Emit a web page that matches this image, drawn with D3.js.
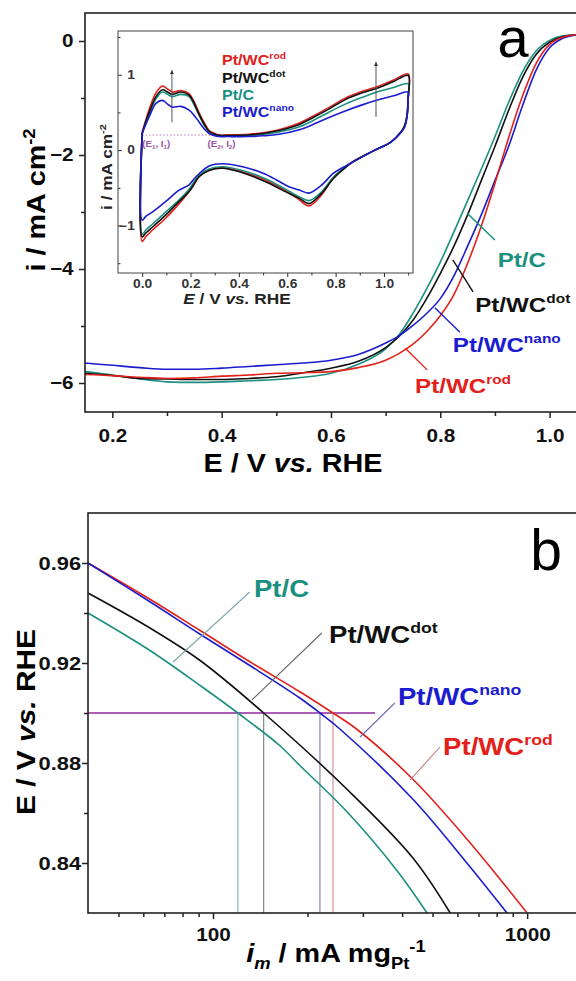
<!DOCTYPE html>
<html><head><meta charset="utf-8">
<script src="https://cdn.jsdelivr.net/npm/d3@7"></script>
<style>body{margin:0;background:#fff}svg{display:block}</style>
</head><body>
<svg id="c" width="576" height="981"></svg>
<script>
// ---------------- DATA ----------------
// Panel a: LSV (ORR polarisation curves)
const lsvE    = [0.15,0.2,0.25,0.3,0.35,0.4,0.45,0.5,0.55,0.6,0.65,0.7,0.725,0.75,0.775,0.8,0.825,0.85,0.875,0.9,0.925,0.95,0.975,1.0,1.025,1.05];
const lsvRod  = [-5.85,-5.87,-5.90,-5.92,-5.91,-5.88,-5.86,-5.83,-5.82,-5.80,-5.73,-5.60,-5.48,-5.32,-5.10,-4.82,-4.45,-3.90,-3.25,-2.50,-1.70,-0.98,-0.40,-0.06,0.07,0.11];
const lsvNano = [-5.65,-5.69,-5.73,-5.76,-5.76,-5.74,-5.71,-5.68,-5.65,-5.60,-5.50,-5.30,-5.17,-4.99,-4.78,-4.52,-4.12,-3.60,-3.05,-2.45,-1.85,-1.15,-0.52,-0.12,0.05,0.11];
const lsvDot  = [-5.83,-5.87,-5.92,-5.93,-5.94,-5.94,-5.92,-5.89,-5.82,-5.74,-5.62,-5.38,-5.18,-4.90,-4.52,-4.08,-3.60,-3.05,-2.45,-1.85,-1.22,-0.65,-0.24,-0.02,0.08,0.11];
const lsvPtC  = [-5.80,-5.86,-5.93,-5.98,-5.99,-5.98,-5.96,-5.94,-5.90,-5.83,-5.67,-5.40,-5.15,-4.78,-4.35,-3.88,-3.35,-2.80,-2.25,-1.68,-1.08,-0.55,-0.18,0.01,0.09,0.11];

// Inset: cyclic voltammograms, anodic (upper) and cathodic (lower) branches
const cvUpE    = [0,0.015,0.03,0.057,0.084,0.105,0.125,0.16,0.194,0.215,0.236,0.257,0.277,0.3,0.318,0.35,0.44,0.5,0.566,0.65,0.70,0.77,0.84,0.91,0.98,1.04,1.1];
const cvUpRod  = [0.24,0.40,0.55,0.76,0.85,0.81,0.77,0.79,0.75,0.64,0.49,0.36,0.26,0.22,0.20,0.20,0.21,0.23,0.27,0.36,0.44,0.56,0.69,0.78,0.85,0.93,1.01];
const cvUpDot  = [0.22,0.38,0.51,0.71,0.80,0.77,0.74,0.77,0.73,0.62,0.47,0.34,0.25,0.21,0.195,0.195,0.20,0.22,0.26,0.34,0.42,0.54,0.67,0.76,0.83,0.91,0.99];
const cvUpPtC  = [0.22,0.37,0.49,0.68,0.77,0.74,0.71,0.74,0.71,0.60,0.46,0.33,0.24,0.20,0.19,0.19,0.195,0.21,0.24,0.31,0.38,0.50,0.61,0.70,0.78,0.83,0.88];
const cvUpNano = [0.22,0.34,0.45,0.62,0.66,0.61,0.57,0.58,0.53,0.46,0.37,0.28,0.22,0.19,0.18,0.18,0.18,0.19,0.21,0.27,0.33,0.43,0.52,0.60,0.67,0.72,0.77];
const cvDnE    = [1.1,1.095,1.085,1.07,1.03,0.95,0.87,0.83,0.79,0.74,0.69,0.65,0.61,0.51,0.415,0.332,0.277,0.236,0.215,0.194,0.153,0.098,0.043,0.015,0];
const cvDnRod  = [0.70,0.45,0.32,0.24,0.11,-0.02,-0.155,-0.25,-0.37,-0.60,-0.74,-0.66,-0.57,-0.40,-0.29,-0.235,-0.265,-0.35,-0.45,-0.55,-0.71,-0.90,-1.06,-1.15,-1.21];
const cvDnDot  = [0.70,0.45,0.32,0.24,0.11,-0.02,-0.16,-0.26,-0.38,-0.58,-0.71,-0.64,-0.58,-0.42,-0.30,-0.24,-0.27,-0.35,-0.45,-0.55,-0.68,-0.86,-1.02,-1.10,-1.15];
const cvDnPtC  = [0.70,0.45,0.32,0.24,0.11,-0.02,-0.16,-0.25,-0.36,-0.56,-0.67,-0.62,-0.55,-0.38,-0.27,-0.22,-0.25,-0.33,-0.42,-0.52,-0.66,-0.82,-0.98,-1.06,-1.12];
const cvDnNano = [0.68,0.43,0.30,0.23,0.11,-0.02,-0.16,-0.23,-0.31,-0.47,-0.57,-0.53,-0.49,-0.32,-0.22,-0.18,-0.21,-0.31,-0.38,-0.46,-0.53,-0.68,-0.82,-0.88,-0.93];

// Panel b: mass activity (Tafel-type) curves
const tafRodIm  = [40,63,91,131,189,241,287,433,644,1000];
const tafRodE   = [0.960,0.9455,0.933,0.9205,0.9085,0.900,0.8935,0.8735,0.8495,0.820];
const tafNanoIm = [40,63,91,131,189,219,254,433,624,863];
const tafNanoE  = [0.960,0.9445,0.9315,0.919,0.906,0.900,0.8935,0.8655,0.842,0.820];
const tafDotIm  = [40,63,91,145,267,433,569];
const tafDotE   = [0.948,0.934,0.921,0.900,0.8695,0.842,0.820];
const tafPtCIm  = [40,63,91,120,163,189,267,385,480];
const tafPtCE   = [0.940,0.925,0.911,0.900,0.887,0.879,0.8605,0.837,0.820];
const refE = 0.90;                       // reference potential line
const imAtRef = {PtC:120, dot:145, nano:219, rod:241};

// Tick labels
const aXTicks = [0.2,0.4,0.6,0.8,1.0], aXMinor = [0.3,0.5,0.7,0.9];
const aYTicks = [0,-2,-4,-6], aYMinor = [-1,-3,-5];
const iXTicks = [0,0.2,0.4,0.6,0.8,1.0], iXMinor = [0.1,0.3,0.5,0.7,0.9,1.1];
const iYTicks = [-1,0,1], iYMinor = [-1.5,-0.5,0.5,1.5];
const bYTicks = [0.84,0.88,0.92,0.96], bYMinor = [0.86,0.90,0.94];
const bXTicks = [100,1000], bXMinor = [50,60,70,80,90,200,300,400,500,600,700,800,900];

// ---------------- STYLE ----------------
const FONT = "'Liberation Sans', Arial, Helvetica, sans-serif";
const SX = 1.15;
const RED = '#e3201b', BLACK = '#111', TEAL = '#1b9080', BLUE = '#1c1ccf', PURPLE = '#8e2a9c';

const svg = d3.select('#c');
const defs = svg.append('defs');
defs.append('marker').attr('id','arr').attr('viewBox','0 0 10 10').attr('refX',10).attr('refY',5)
  .attr('markerWidth',4).attr('markerHeight',6).attr('orient','auto').attr('markerUnits','userSpaceOnUse')
  .append('path').attr('d','M0,0 L10,5 L0,10 z').attr('fill','#333');

function rich(parent, x, y, segs, o) {
  const size = o.size, sx = o.sx === undefined ? SX : o.sx;
  const t = parent.append('text')
    .attr('transform', `translate(${x},${y}) rotate(${o.rotate||0}) scale(${sx},1)`)
    .attr('text-anchor', o.anchor || 'start')
    .attr('font-family', FONT).attr('font-size', size)
    .attr('font-weight', o.weight || 'bold').attr('fill', o.fill || '#000');
  let shift = 0;
  segs.forEach(s => {
    const seg = typeof s === 'string' ? {t:s} : s;
    let target = 0, fs = size;
    if (seg.sup) { target = -size*0.42; fs = size*0.64; }
    if (seg.sub) { target = size*0.28; fs = size*0.64; }
    const ts = t.append('tspan').text(seg.t).attr('font-size', fs).attr('dy', target - shift);
    shift = target;
    if (seg.it) ts.attr('font-style','italic');
  });
  return t;
}

function drawAxis(g, gen, vals, o) {
  gen.tickValues(vals).tickSize(o.size).tickSizeOuter(0).tickPadding(o.pad || 0)
     .tickFormat(o.fmt ? o.fmt : () => '');
  g.call(gen);
  g.select('.domain').remove();
  g.attr('font-family', FONT).attr('font-size', o.fs || 18).attr('font-weight','bold');
  g.selectAll('.tick line').attr('stroke', o.color || '#222').attr('stroke-width', o.sw || 1.5);
  g.selectAll('.tick text').attr('fill', o.color || '#111').attr('transform', `scale(${SX},1)`);
}
const fmt1 = d3.format('.1f'), fmt2 = d3.format('.2f'), fmtI = d => d3.format('d')(d);

// ================= PANEL A =================
const aL = 85, aR = 578, aT = 13, aB = 412;
const xA = d3.scaleLinear().domain([0.15, 1.052]).range([aL, aR]);
const yA = d3.scaleLinear().domain([-6.509, 0.491]).range([aB, aT]);

defs.append('clipPath').attr('id','clipA').append('rect').attr('x',aL).attr('y',aT).attr('width',aR-aL).attr('height',aB-aT);

const gA = svg.append('g');
const lineA = d3.line().x(d => xA(d[0])).y(d => yA(d[1])).curve(d3.curveMonotoneX);
const lsvSeries = [[lsvPtC, TEAL],[lsvDot, BLACK],[lsvNano, BLUE],[lsvRod, RED]];
const gAc = gA.append('g').attr('clip-path','url(#clipA)');
lsvSeries.forEach(([vals, col]) => {
  gAc.append('path').datum(lsvE.map((e,i)=>[e, vals[i]])).attr('d', lineA)
    .attr('fill','none').attr('stroke', col).attr('stroke-width', 1.6);
});

gA.append('rect').attr('x',aL).attr('y',aT).attr('width',aR-aL).attr('height',aB-aT)
  .attr('fill','none').attr('stroke','#222').attr('stroke-width',1.6);

drawAxis(gA.append('g').attr('transform',`translate(${aL},0)`), d3.axisLeft(yA), aYTicks, {size:6, pad:4, fmt:fmtI, fs:18});
drawAxis(gA.append('g').attr('transform',`translate(${aL},0)`), d3.axisLeft(yA), aYMinor, {size:4});
drawAxis(gA.append('g').attr('transform',`translate(0,${aB})`), d3.axisBottom(xA), aXTicks, {size:6, pad:11, fmt:fmt1, fs:18});
drawAxis(gA.append('g').attr('transform',`translate(0,${aB})`), d3.axisBottom(xA), aXMinor, {size:4});

rich(gA, 293, 472, ['E / V ', {t:'vs.', it:true}, ' RHE'], {size:25, anchor:'middle'});
rich(gA, 45, 200, ['i / mA cm', {t:'-2', sup:true}], {size:25, anchor:'middle', rotate:-90});
rich(gA, 513, 57, ['a'], {size:56, anchor:'middle', weight:'normal', sx:1});

const aLabels = [
  {txt:'Pt/C', sup:'', col:TEAL, l:[[0.849,-3.02],[0.900,-3.49]], p:[0.905,-3.96]},
  {txt:'Pt/WC', sup:'dot', col:BLACK, l:[[0.823,-3.84],[0.860,-4.40]], p:[0.864,-4.75]},
  {txt:'Pt/WC', sup:'nano', col:BLUE, l:[[0.790,-4.68],[0.836,-5.11]], p:[0.823,-5.46]},
  {txt:'Pt/WC', sup:'rod', col:RED, l:[[0.736,-5.39],[0.776,-5.77]], p:[0.754,-6.18]}
];
aLabels.forEach(d => {
  gA.append('line').attr('x1',xA(d.l[0][0])).attr('y1',yA(d.l[0][1])).attr('x2',xA(d.l[1][0])).attr('y2',yA(d.l[1][1]))
    .attr('stroke', d.col).attr('stroke-width',1.4);
  const segs = [d.txt]; if (d.sup) segs.push({t:d.sup, sup:true});
  rich(gA, xA(d.p[0]), yA(d.p[1]), segs, {size:21, fill:d.col});
});

// ================= INSET =================
const iL = 118, iR = 413, iT = 31, iB = 273;
const xI = d3.scaleLinear().domain([-0.1, 1.12]).range([iL, iR]);
const yI = d3.scaleLinear().domain([-1.63, 1.58]).range([iB, iT]);
const gI = svg.append('g');
gI.append('rect').attr('x',iL).attr('y',iT).attr('width',iR-iL).attr('height',iB-iT)
  .attr('fill','#fff').attr('stroke','#555').attr('stroke-width',1.1);

gI.append('line').attr('x1',xI(0)).attr('x2',xI(0.29)).attr('y1',yI(0.2)).attr('y2',yI(0.2))
  .attr('stroke','#b27ab8').attr('stroke-width',1).attr('stroke-dasharray','1.5,2');

const lineI = d3.line().x(d => xI(d[0])).y(d => yI(d[1])).curve(d3.curveCatmullRom.alpha(0.5));
const cvSeries = [[cvUpRod, cvDnRod, RED],[cvUpPtC, cvDnPtC, TEAL],[cvUpDot, cvDnDot, BLACK],[cvUpNano, cvDnNano, BLUE]];
cvSeries.forEach(([up, dn, col]) => {
  const pts = cvUpE.map((e,i)=>[e, up[i]]).concat(cvDnE.map((e,i)=>[e, dn[i]]));
  pts.push([cvUpE[0], up[0]]);
  gI.append('path').datum(pts).attr('d', lineI).attr('fill','none').attr('stroke', col).attr('stroke-width',1.6);
});

[[0.123, 0.37, 1.06],[0.967, 0.44, 1.17]].forEach(a => {
  gI.append('line').attr('x1',xI(a[0])).attr('x2',xI(a[0])).attr('y1',yI(a[1])).attr('y2',yI(a[2]))
    .attr('stroke','#555').attr('stroke-width',1).attr('marker-end','url(#arr)');
});

rich(gI, xI(0.0), 147, ['(E', {t:'1',sub:true}, ', I', {t:'1',sub:true}, ')'], {size:8.5, fill:'#9a55a5'});
rich(gI, xI(0.27), 147, ['(E', {t:'2',sub:true}, ', I', {t:'2',sub:true}, ')'], {size:8.5, fill:'#9a55a5'});

drawAxis(gI.append('g').attr('transform',`translate(0,${iB})`), d3.axisBottom(xI), iXTicks, {size:4, pad:2, fmt:fmt1, fs:12, color:'#333', sw:1});
drawAxis(gI.append('g').attr('transform',`translate(0,${iB})`), d3.axisBottom(xI), iXMinor, {size:2.5, color:'#333', sw:1});
drawAxis(gI.append('g').attr('transform',`translate(${iL},0)`), d3.axisRight(yI), iYTicks, {size:4, color:'#333', sw:1});
drawAxis(gI.append('g').attr('transform',`translate(${iL},0)`), d3.axisRight(yI), iYMinor, {size:2.5, color:'#333', sw:1});
drawAxis(gI.append('g').attr('transform',`translate(135,0)`), d3.axisLeft(yI), iYTicks, {size:0, pad:0, fmt:fmtI, fs:12, color:'#333', sw:0});

rich(gI, 237, 304, [{t:'E', it:true}, ' / V ', {t:'vs.', it:true}, ' RHE'], {size:15, anchor:'middle', fill:'#222'});
rich(gI, 112, 167, ['i / mA cm', {t:'-2', sup:true}], {size:15, anchor:'middle', rotate:-90, fill:'#222'});

const legI = [['Pt/WC','rod',RED],['Pt/WC','dot',BLACK],['Pt/C','',TEAL],['Pt/WC','nano',BLUE]];
const legY = [65, 83, 100, 117];
legI.forEach((d,i) => {
  const segs = [d[0]]; if (d[1]) segs.push({t:d[1], sup:true});
  rich(gI, 222, legY[i], segs, {size:14, fill:d[2]});
});

// ================= PANEL B =================
const bL = 88, bR = 578, bT = 513, bB = 913;
const xB = d3.scaleLog().domain([40, 1452]).range([bL, bR]);
const yB = d3.scaleLinear().domain([0.82, 0.98]).range([bB, bT]);
defs.append('clipPath').attr('id','clipB').append('rect').attr('x',bL).attr('y',bT).attr('width',bR-bL).attr('height',bB-bT);
const gB = svg.append('g');

gB.append('line').attr('x1',xB(40)).attr('x2',xB(328)).attr('y1',yB(refE)).attr('y2',yB(refE))
  .attr('stroke',PURPLE).attr('stroke-width',1.6);
const drops = [[imAtRef.PtC,'#78b0b0'],[imAtRef.dot,'#7a7a7a'],[imAtRef.nano,'#7d7dab'],[imAtRef.rod,'#d38a8a']];
drops.forEach(([v,c]) => {
  gB.append('line').attr('x1',xB(v)).attr('x2',xB(v)).attr('y1',yB(refE)).attr('y2',yB(0.82))
    .attr('stroke',c).attr('stroke-width',1.1);
});

const lineB = d3.line().x(d => xB(d[0])).y(d => yB(d[1])).curve(d3.curveCatmullRom.alpha(0.5));
const tafSeries = [[tafPtCIm,tafPtCE,TEAL],[tafDotIm,tafDotE,BLACK],[tafRodIm,tafRodE,RED],[tafNanoIm,tafNanoE,BLUE]];
const gBc = gB.append('g').attr('clip-path','url(#clipB)');
tafSeries.forEach(([im, e, col]) => {
  gBc.append('path').datum(im.map((v,i)=>[v, e[i]])).attr('d', lineB)
    .attr('fill','none').attr('stroke', col).attr('stroke-width',1.6);
});

gB.append('rect').attr('x',bL).attr('y',bT).attr('width',bR-bL).attr('height',bB-bT)
  .attr('fill','none').attr('stroke','#222').attr('stroke-width',1.6);

drawAxis(gB.append('g').attr('transform',`translate(${bL},0)`), d3.axisLeft(yB), bYTicks, {size:6, pad:0, fmt:fmt2, fs:19});
drawAxis(gB.append('g').attr('transform',`translate(${bL},0)`), d3.axisLeft(yB), bYMinor, {size:4});
drawAxis(gB.append('g').attr('transform',`translate(0,${bB})`), d3.axisBottom(xB), bXTicks, {size:6, pad:9, fmt:fmtI, fs:18});
drawAxis(gB.append('g').attr('transform',`translate(0,${bB})`), d3.axisBottom(xB), bXMinor, {size:4});

rich(gB, 35, 722, ['E / V ', {t:'vs.', it:true}, ' RHE'], {size:26, anchor:'middle', rotate:-90});
rich(gB, 336, 962, [{t:'i',it:true}, {t:'m', sub:true, it:true}, ' / mA mg', {t:'Pt', sub:true}, {t:'-1', sup:true}], {size:25, anchor:'middle'});
rich(gB, 546, 570, ['b'], {size:57, anchor:'middle', weight:'normal', sx:1});

const bLabels = [
  {txt:'Pt/C', sup:'', col:TEAL, lc:'#7fa8a8', l:[[74.6,0.9204],[131,0.9484]], p:[135,0.9464]},
  {txt:'Pt/WC', sup:'dot', col:BLACK, lc:'#666', l:[[133,0.9052],[222,0.932]], p:[234,0.928]},
  {txt:'Pt/WC', sup:'nano', col:BLUE, lc:'#6a6ab5', l:[[294,0.8904],[379,0.904]], p:[388,0.9032]},
  {txt:'Pt/WC', sup:'rod', col:RED, lc:'#c47878', l:[[424,0.8732],[528,0.8864]], p:[540,0.8832]}
];
bLabels.forEach(d => {
  gB.append('line').attr('x1',xB(d.l[0][0])).attr('y1',yB(d.l[0][1])).attr('x2',xB(d.l[1][0])).attr('y2',yB(d.l[1][1]))
    .attr('stroke', d.lc).attr('stroke-width',1.1);
  const segs = [d.txt]; if (d.sup) segs.push({t:d.sup, sup:true});
  rich(gB, xB(d.p[0]), yB(d.p[1]), segs, {size:24, fill:d.col});
});
</script>
</body></html>
